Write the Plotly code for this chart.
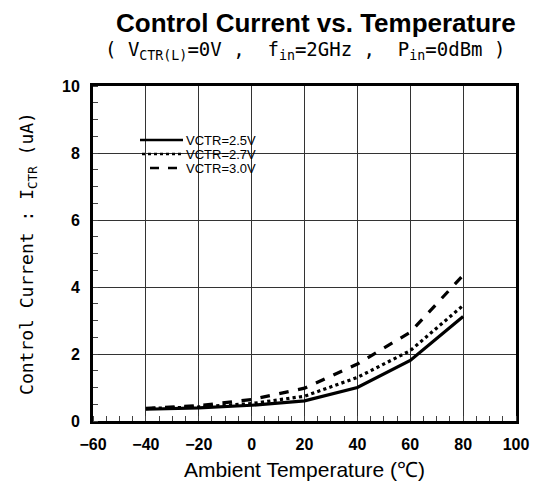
import plotly.graph_objects as go

temps = [-40, -20, 0, 20, 40, 60, 80]
i_25 = [0.35, 0.39, 0.47, 0.60, 1.00, 1.81, 3.12]
i_27 = [0.37, 0.42, 0.52, 0.74, 1.30, 2.10, 3.45]
i_30 = [0.38, 0.46, 0.64, 0.98, 1.70, 2.65, 4.35]
series = [("VCTR=2.5V", i_25, "solid"), ("VCTR=2.7V", i_27, "dot"), ("VCTR=3.0V", i_30, "dash")]
x_ticks = [-60, -40, -20, 0, 20, 40, 60, 80, 100]
y_ticks = [0, 2, 4, 6, 8, 10]

fig = go.Figure()
for name, vals, dash in series:
    fig.add_trace(go.Scatter(x=temps, y=vals, mode="lines", name=name,
                             line=dict(color="black", width=3.2, dash=dash),
                             showlegend=False))

tickfont = dict(family="Liberation Sans, Arial, sans-serif",
                size=16, color="black", weight="bold")
fig.update_xaxes(range=[-60, 100], tickvals=x_ticks, ticks="", showgrid=True,
                 gridcolor="#333", gridwidth=1, zeroline=False, showline=True,
                 linecolor="black", linewidth=3, mirror=True, tickfont=tickfont,
                 ticklabelstandoff=7, automargin=False,
                 minor=dict(dtick=5, ticks="inside", ticklen=5, tickcolor="#444", showgrid=False),
                 title=dict(text="Ambient Temperature (℃)", standoff=11,
                            font=dict(family="Liberation Sans, Arial, sans-serif", size=21, color="black")))
fig.update_yaxes(range=[0, 10], tickvals=y_ticks, ticks="", showgrid=True,
                 gridcolor="#333", gridwidth=1, zeroline=False, showline=True,
                 linecolor="black", linewidth=3, mirror=True, tickfont=tickfont,
                 ticklabelstandoff=7, automargin=False,
                 minor=dict(dtick=0.5, ticks="inside", ticklen=5, tickcolor="#444", showgrid=False),
                 title=dict(text="Control Current : I<sub>CTR</sub> (uA)", standoff=24,
                            font=dict(family="DejaVu Sans Mono, monospace", size=18, color="black")))

# page offset (body margin) of 8px in the browser
OFF = 8
W, H, L, T = 423.0, 335.0, 93.0 - OFF, 86.0 - OFF
B = T + H

def px(x):
    return (x - OFF - L) / W

def py(y):
    return (B - (y - OFF)) / H

leg_font = dict(family="Liberation Sans, Arial, sans-serif", size=13, color="black")
rows = [(140, 140, "solid"), (154, 142, "dot"), (168, 150, "dash")]
for (name, vals, dash), (yy, x0, d) in zip(series, rows):
    fig.add_shape(type="line", xref="paper", yref="paper",
                  x0=px(x0), x1=px(183), y0=py(yy), y1=py(yy),
                  line=dict(color="black", width=2.5, dash=d))
    fig.add_annotation(xref="paper", yref="paper", x=px(185), y=py(yy),
                       xanchor="left", yanchor="middle", text=name, showarrow=False,
                       borderpad=0, font=leg_font)

fig.add_annotation(xref="paper", yref="paper", x=px(316), y=py(23), xanchor="center",
                   yanchor="middle", showarrow=False,
                   text="<b>Control Current vs. Temperature</b>",
                   font=dict(family="Liberation Sans, Arial, sans-serif", size=26, color="black"))
fig.add_annotation(xref="paper", yref="paper", x=px(305), y=py(50), xanchor="center",
                   yanchor="middle", showarrow=False,
                   text="( V<sub>CTR(L)</sub>=0V ,  f<sub>in</sub>=2GHz ,  P<sub>in</sub>=0dBm )",
                   font=dict(family="DejaVu Sans Mono, monospace", size=19, color="black"))

fig.update_layout(width=531, height=479, margin=dict(l=85, r=23, t=78, b=66),
                  plot_bgcolor="white", paper_bgcolor="white")
fig.write_html("out.html")
